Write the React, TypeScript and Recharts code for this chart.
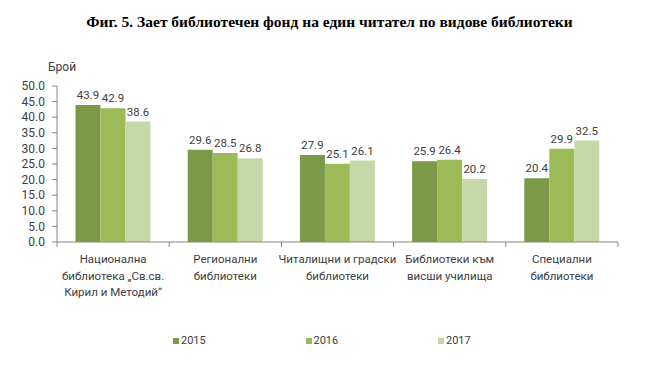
import React from 'react';
import { BarChart, Bar, XAxis, YAxis, LabelList, Legend } from 'recharts';

// категории (редове на етикета)
const categories: string[][] = [
  ['Национална', 'библиотека „Св.св.', 'Кирил и Методий“'],
  ['Регионални', 'библиотеки'],
  ['Читалищни и градски', 'библиотеки'],
  ['Библиотеки към', 'висши училища'],
  ['Специални', 'библиотеки'],
];

const values2015 = [43.9, 29.6, 27.9, 25.9, 20.4];
const values2016 = [42.9, 28.5, 25.1, 26.4, 29.9];
const values2017 = [38.6, 26.8, 26.1, 20.2, 32.5];

const yTicks = [0, 5, 10, 15, 20, 25, 30, 35, 40, 45, 50];

const series = [
  { key: 'y2015', name: '2015', color: '#7a9a48' },
  { key: 'y2016', name: '2016', color: '#9bbb59' },
  { key: 'y2017', name: '2017', color: '#c6d8a9' },
];

const data = categories.map((lines, i) => ({
  id: String(i),
  lines,
  y2015: values2015[i],
  y2016: values2016[i],
  y2017: values2017[i],
}));

const W = 659;
const H = 375;
const MARGIN = { top: 86, right: 41, left: 0, bottom: 57 };
const Y_AXIS_W = 57;
const BAND = (W - MARGIN.left - MARGIN.right - Y_AXIS_W) / categories.length;

const FONT = 'Roboto, "Noto Sans", sans-serif';
const TEXT = '#404040';
const AXIS = '#868686';

// етикет на категорията + делителни чертички като в Excel
const CategoryTick = (props: any) => {
  const { x, y, payload, index } = props;
  const lines: string[] = categories[Number(payload.value)] || [];
  return (
    <g>
      <line x1={x - BAND / 2} x2={x - BAND / 2} y1={y} y2={y + 5} stroke={AXIS} />
      {index === categories.length - 1 && (
        <line x1={x + BAND / 2} x2={x + BAND / 2} y1={y} y2={y + 5} stroke={AXIS} />
      )}
      {lines.map((t, i) => (
        <text
          key={i}
          x={x}
          y={y + 21 + i * 16.5}
          textAnchor="middle"
          fill={TEXT}
          fontSize={11.5}
          fontFamily={FONT}
        >
          {t}
        </text>
      ))}
    </g>
  );
};

const LegendContent = () => (
  <div style={{ position: 'relative', height: 16, width: W }}>
    {series.map((s, i) => (
      <div
        key={s.key}
        style={{
          position: 'absolute',
          left: 173 + i * 132.5,
          top: 0,
          display: 'flex',
          alignItems: 'center',
          fontFamily: FONT,
          fontSize: 11,
          color: TEXT,
          lineHeight: '16px',
        }}
      >
        <span style={{ width: 6, height: 6, background: s.color, marginRight: 2, display: 'inline-block' }} />
        {s.name}
      </div>
    ))}
  </div>
);

export default function App() {
  return (
    <div style={{ position: 'absolute', left: 0, top: 0, width: W, height: H, background: '#fff' }}>
      <div
        style={{
          position: 'absolute',
          top: 13,
          left: 0,
          width: W,
          textAlign: 'center',
          fontFamily: '"Liberation Serif", "Times New Roman", serif',
          fontWeight: 'bold',
          fontSize: 15.5,
          lineHeight: '18px',
          color: '#000',
        }}
      >
        Фиг. 5. Зает библиотечен фонд на един читател по видове библиотеки
      </div>
      <div
        style={{
          position: 'absolute',
          top: 60,
          left: 48,
          fontFamily: FONT,
          fontSize: 12,
          color: TEXT,
        }}
      >
        Брой
      </div>
      <BarChart
        width={W}
        height={H}
        data={data}
        margin={MARGIN}
        barCategoryGap="16.5%"
        barGap={0}
      >
        <XAxis
          dataKey="id"
          interval={0}
          height={60}
          stroke={AXIS}
          tickLine={false}
          tickSize={0}
          tickMargin={0}
          tick={<CategoryTick />}
        />
        <YAxis
          width={Y_AXIS_W}
          domain={[0, 50]}
          ticks={yTicks}
          interval={0}
          stroke={AXIS}
          tickSize={5}
          tickMargin={7}
          tickFormatter={(v: number) => v.toFixed(1)}
          tick={{ fill: TEXT, fontSize: 12, fontFamily: FONT }}
        />
        <Legend
          verticalAlign="bottom"
          content={<LegendContent />}
          wrapperStyle={{ left: 0, top: 333, width: W }}
        />
        {series.map((s) => (
          <Bar key={s.key} dataKey={s.key} name={s.name} fill={s.color} isAnimationActive={false}>
            <LabelList
              dataKey={s.key}
              position="top"
              offset={6}
              formatter={(v: any) => Number(v).toFixed(1)}
              style={{ fill: TEXT, fontSize: 11.5, fontFamily: FONT }}
            />
          </Bar>
        ))}
      </BarChart>
    </div>
  );
}
